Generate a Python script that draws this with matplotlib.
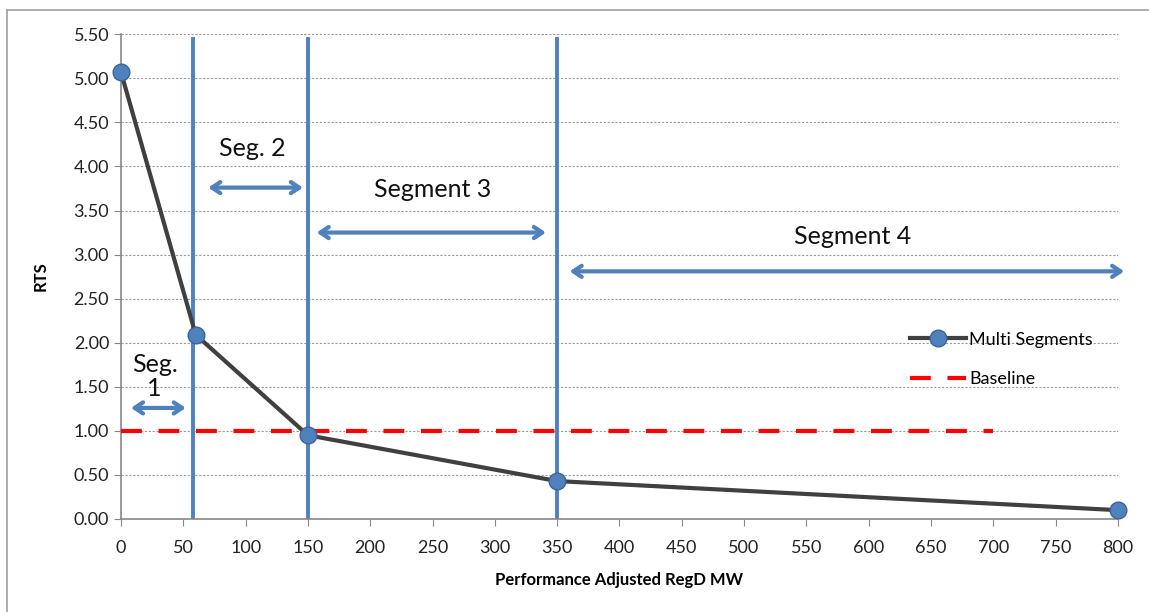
import matplotlib

matplotlib.use("Agg")
import matplotlib.pyplot as plt
from matplotlib.lines import Line2D

plt.rcParams["font.family"] = ["Lato", "DejaVu Sans"]

# data
mw = [0, 60, 150, 350, 800]
rts = [5.07, 2.09, 0.95, 0.43, 0.10]
baseline_x = [0, 700]
baseline_y = [1.0, 1.0]
seg_bounds = [58, 150, 350]
seg_top = 5.45

# segment arrows: (x_start, x_end, y)
seg_arrows = [(8, 52, 1.26), (70, 146, 3.76), (157, 341, 3.25), (360, 805, 2.81)]
seg_labels = ["Seg.\n1", "Seg. 2", "Segment 3", "Segment 4"]
seg_label_pos = [(27, 1.62), (105, 4.2), (250, 3.74), (587, 3.2)]

xticks = list(range(0, 801, 50))
yticks = [i * 0.5 for i in range(12)]

BLUE = "#4F81BD"
DARK = "#404040"

fig = plt.figure(figsize=(11.49, 6.12), dpi=100)
ax = fig.add_axes([0.1053, 0.152, 0.8677, 0.792])

# outer frame (left + top)
fig.add_artist(Line2D([7 / 1149, 7 / 1149], [0, 1 - 10 / 612], color="#A0A0A0", lw=1.2))
fig.add_artist(Line2D([7 / 1149, 1], [1 - 10 / 612, 1 - 10 / 612], color="#A0A0A0", lw=1.2))

for y in yticks[1:]:
    ax.axhline(y, color="#9A9A9A", lw=0.8, ls=(0, (2, 1.5)), zorder=0)

for xb in seg_bounds:
    ax.plot([xb, xb], [0, seg_top], color=BLUE, lw=2.8, zorder=2)

ax.plot(baseline_x, baseline_y, color="#FF0000", lw=3, ls=(0, (5, 4)),
        label="Baseline", zorder=3)
ax.plot(mw, rts, color=DARK, lw=3, marker="o", markersize=12,
        markerfacecolor=BLUE, markeredgecolor="#3A6594", markeredgewidth=1,
        label="Multi Segments", zorder=4, clip_on=False)

for (x0, x1, y) in seg_arrows:
    ax.annotate("", xy=(x1, y), xytext=(x0, y),
                arrowprops=dict(arrowstyle="<->,head_length=0.6,head_width=0.4",
                                color=BLUE, lw=3, shrinkA=0, shrinkB=0),
                annotation_clip=False, zorder=3)

for label, (x, y) in zip(seg_labels, seg_label_pos):
    ax.text(x, y, label, ha="center", va="center", fontsize=18,
            color="#111111", linespacing=1.05, zorder=5)

ax.set_xlim(0, 800)
ax.set_ylim(0, 5.5)
ax.set_xticks(xticks)
ax.set_yticks(yticks)
ax.set_yticklabels([f"{v:.2f}" for v in yticks])
ax.tick_params(axis="both", labelsize=13, colors="#222222", length=5,
               color="#888888", direction="out")
ax.tick_params(axis="x", pad=10)
for s in ["top", "right"]:
    ax.spines[s].set_visible(False)
for s in ["left", "bottom"]:
    ax.spines[s].set_color("#888888")
    ax.spines[s].set_linewidth(1.2)

ax.set_xlabel("Performance Adjusted RegD MW", fontsize=12, fontweight="bold", labelpad=12)
ax.set_ylabel("RTS", fontsize=12, fontweight="bold", labelpad=18)

h, l = ax.get_legend_handles_labels()
ax.legend(h[::-1], l[::-1], loc="upper left", bbox_to_anchor=(0.775, 0.42),
          frameon=False, fontsize=13, handlelength=3.1, labelspacing=1.3,
          handletextpad=0.2)

fig.savefig("out.png", dpi=100)
